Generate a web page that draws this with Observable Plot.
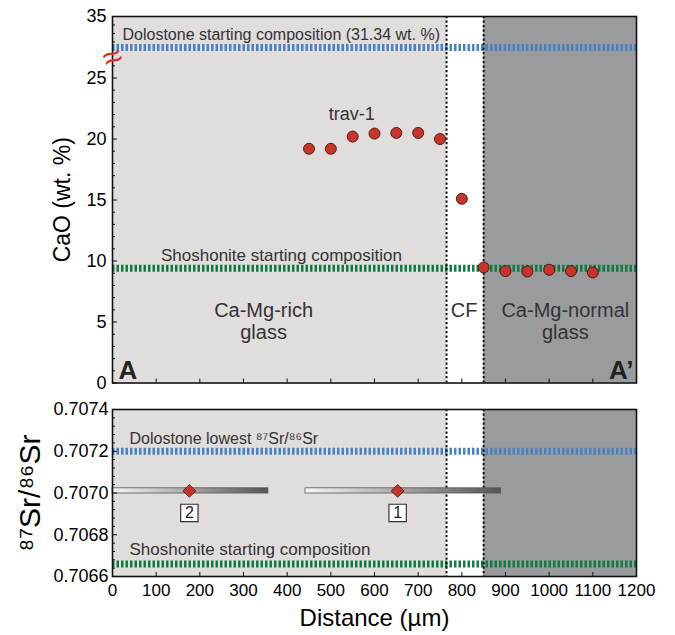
<!DOCTYPE html>
<html>
<head>
<meta charset="utf-8">
<script src="https://cdn.jsdelivr.net/npm/d3@7"></script>
<script src="https://cdn.jsdelivr.net/npm/@observablehq/plot@0.6"></script>
<style>
  html, body { margin: 0; padding: 0; background: white; }
  #chart { width: 675px; height: 635px; position: relative; }
  #chart svg { display: block; }
</style>
</head>
<body>
<div id="chart"></div>
<script>
// ---------- data ----------
const distance = [450, 500, 550, 600, 650, 700, 750, 800, 850, 900, 950, 1000, 1050, 1100];
const cao = [19.2, 19.2, 20.2, 20.45, 20.5, 20.5, 20.0, 15.1, 9.47, 9.17, 9.14, 9.28, 9.17, 9.06];

const regionEdges = [0, 765, 850, 1200];
const regionNames = ["Ca-Mg-rich\nglass", "CF", "Ca-Mg-normal\nglass"];
const regionLabelX = [346, 805, 1037];
const regionLabelY = [5.07, 5.97, 5.07];

const dolostoneCaO = 31.34;
const shoshoniteCaO = 9.4;
const caoBreak = 26.7;

const srSamples = ["2", "1"];
const srDistance = [176, 653];
const srRangeMin = [0, 442];
const srRangeMax = [357, 890];
const srValue = [0.70701, 0.70701];
const dolostoneSr = 0.7072;
const shoshoniteSr = 0.70666;

const caoTicks = [0, 5, 10, 15, 20, 25, 35];
const caoMinorTicks = [1,2,3,4,6,7,8,9,11,12,13,14,16,17,18,19,21,22,23,24,26,32,33,34];
const srTicks = [0.7066, 0.7068, 0.7070, 0.7072, 0.7074];
const srMinorTicks = [0.70664, 0.70668, 0.70672, 0.70676, 0.70684, 0.70688, 0.70692, 0.70696,
                      0.70704, 0.70708, 0.70712, 0.70716, 0.70724, 0.70728, 0.70732, 0.70736];
const distTicks = [0, 100, 200, 300, 400, 500, 600, 700, 800, 900, 1000, 1100, 1200];

// ---------- styles ----------
const FONT = "'Liberation Sans', Arial, Helvetica, sans-serif";
const regionFill = ["#e0dddc", "#ffffff", "#9a9b9d"];
const BLUE = "#4a80c4";
const GREEN = "#0f7d43";
const RED = "#c9342a";
const TXT = "#333333";

// broken CaO axis: linear up to the break, compressed above it
const caoBrokenAxis = d3.scaleLinear()
  .domain([0, caoBreak, dolostoneCaO, 35])
  .range([0, caoBreak, caoBreak + 0.803, caoBreak + 3.344]);

const regions = regionNames.map((name, i) => ({
  name, x1: regionEdges[i], x2: regionEdges[i + 1], fill: regionFill[i],
  lx: regionLabelX[i], ly: regionLabelY[i]
}));
const pts = distance.map((d, i) => ({d, v: cao[i]}));
const sr = srSamples.map((s, i) => ({s, d: srDistance[i], x1: srRangeMin[i], x2: srRangeMax[i], v: srValue[i]}));
const boundaries = regionEdges.slice(1, -1);

const W = 675;
const topH = 395, botH = 240;

// ---------- top panel ----------
const topPlot = Plot.plot({
  width: W, height: topH,
  marginLeft: 112, marginRight: 39, marginTop: 16, marginBottom: 12.5,
  style: {fontFamily: FONT, fontSize: "18px", color: "black", background: "transparent", overflow: "visible"},
  color: {type: "identity"},
  x: {domain: [0, 1200], axis: null},
  y: {domain: [0, caoBrokenAxis(35)], transform: caoBrokenAxis, axis: null},
  marks: [
    Plot.rect(regions, {x1: "x1", x2: "x2", fill: "fill"}),
    Plot.ruleY([dolostoneCaO], {stroke: BLUE, strokeWidth: 7, strokeDasharray: "2.5,2"}),
    Plot.ruleY([shoshoniteCaO], {stroke: GREEN, strokeWidth: 7, strokeDasharray: "2.5,2"}),
    Plot.ruleX(boundaries, {stroke: "#111", strokeWidth: 2, strokeDasharray: "2.3,2.2"}),
    Plot.dot(pts, {x: "d", y: "v", r: 5.5, fill: RED, stroke: "#3a1410", strokeWidth: 0.9}),
    Plot.text(["Dolostone starting composition (31.34 wt. %)"], {x: 0, y: dolostoneCaO, dx: 10, dy: -12.8, textAnchor: "start", fontSize: 16, fill: TXT}),
    Plot.text(["Shoshonite starting composition"], {x: 111, y: shoshoniteCaO, dy: -13.2, textAnchor: "start", fontSize: 17, fill: TXT}),
    Plot.text(["trav-1"], {x: 548, y: 22.05, fontSize: 18, fill: TXT}),
    Plot.text(regions, {x: "lx", y: "ly", text: "name", fontSize: 20, lineHeight: 1.1, fill: TXT}),
    Plot.text(["A"], {frameAnchor: "bottom-left", dx: 6, dy: -4, lineAnchor: "bottom", textAnchor: "start", fontSize: 26, fontWeight: "bold", fill: "#222"}),
    Plot.text(["A’"], {frameAnchor: "bottom-right", dx: -3, dy: -4, lineAnchor: "bottom", textAnchor: "end", fontSize: 26, fontWeight: "bold", fill: "#222"}),
    Plot.text(["CaO (wt. %)"], {frameAnchor: "left", dx: -50, rotate: -90, textAnchor: "middle", lineAnchor: "middle", fontSize: 23, fill: "black"}),
    Plot.frame({stroke: "#111", strokeWidth: 1.6}),
    Plot.text(caoTicks, {x: 0, y: d => d, dx: -6, textAnchor: "end", fontSize: 18, fill: "black"}),
    Plot.ruleY(caoTicks, {x1: 0, x2: 0, insetRight: -5, stroke: "#111", strokeWidth: 1}),
    Plot.ruleY(caoMinorTicks, {x1: 0, x2: 0, insetRight: -3, stroke: "#111", strokeWidth: 1}),
    Plot.ruleX(distTicks.slice(1, -1), {y1: 0, y2: 0, insetTop: -4, stroke: "#111", strokeWidth: 1}),
    Plot.text(["≈"], {x: 0, y: caoBreak, rotate: -22, fontSize: 34, fill: "#d8352a"})
  ]
});

// ---------- bottom panel ----------
const botPlot = Plot.plot({
  width: W, height: botH,
  marginLeft: 112, marginRight: 39, marginTop: 14, marginBottom: 59,
  style: {fontFamily: FONT, fontSize: "17px", color: "black", background: "transparent", overflow: "visible"},
  color: {type: "identity"},
  x: {domain: [0, 1200], axis: null},
  y: {domain: [0.7066, 0.7074], axis: null},
  marks: [
    Plot.rect(regions, {x1: "x1", x2: "x2", fill: "fill"}),
    Plot.ruleY([dolostoneSr], {stroke: BLUE, strokeWidth: 7, strokeDasharray: "2.5,2"}),
    Plot.ruleY([shoshoniteSr], {stroke: GREEN, strokeWidth: 7, strokeDasharray: "2.5,2"}),
    Plot.ruleX(boundaries, {stroke: "#111", strokeWidth: 2, strokeDasharray: "2.3,2.2"}),
    Plot.text(["Dolostone lowest ⁸⁷Sr/⁸⁶Sr"], {x: 39, y: dolostoneSr, dy: -12.8, textAnchor: "start", fontSize: 16, fill: TXT}),
    Plot.text(["Shoshonite starting composition"], {x: 39, y: shoshoniteSr, dy: -14.7, textAnchor: "start", fontSize: 17, fill: TXT}),
    Plot.rect(sr, {x1: "x1", x2: "x2", y1: "v", y2: "v", insetTop: -2.6, insetBottom: -2.6, fill: "url(#srgrad)", stroke: "#555", strokeWidth: 0.8}),
    Plot.dot(sr, {x: "d", y: "v", symbol: "diamond2", r: 5.8, fill: RED, stroke: "#4a1a14", strokeWidth: 0.8}),
    Plot.dot(sr, {x: "d", y: "v", dy: 22, symbol: "square", r: 9.8, fill: "white", stroke: "#333", strokeWidth: 1.2}),
    Plot.text(sr, {x: "d", y: "v", dy: 22, text: "s", fontSize: 16, fill: "#222"}),
    Plot.text(["⁸⁷Sr/⁸⁶Sr"], {frameAnchor: "left", dx: -82, rotate: -90, textAnchor: "middle", lineAnchor: "middle", fontSize: 30, fill: "black"}),
    Plot.text(["Distance (µm)"], {frameAnchor: "bottom", dy: 42, textAnchor: "middle", lineAnchor: "middle", fontSize: 24, fill: "black"}),
    Plot.frame({stroke: "#111", strokeWidth: 1.6}),
    Plot.text(srTicks, {x: 0, y: d => d, dx: -4, text: d => d3.format(".4f")(d), textAnchor: "end", fontSize: 18, fill: "black"}),
    Plot.text(distTicks, {x: d => d, y: 0.7066, dy: 14, text: d => String(d), textAnchor: "middle", fontSize: 17, fill: "black"}),
    Plot.ruleY(srTicks, {x1: 0, x2: 0, insetRight: -5, stroke: "#111", strokeWidth: 1}),
    Plot.ruleY(srMinorTicks, {x1: 0, x2: 0, insetRight: -3, stroke: "#111", strokeWidth: 1}),
    Plot.ruleX(distTicks.slice(1, -1), {y1: 0.7066, y2: 0.7066, insetTop: -4, stroke: "#111", strokeWidth: 1})
  ]
});

// gradient definition for the Sr range bars
const defs = d3.select(botPlot).insert("defs", ":first-child");
const grad = defs.append("linearGradient").attr("id", "srgrad")
  .attr("x1", "0").attr("x2", "1").attr("y1", "0").attr("y2", "0");
grad.append("stop").attr("offset", "0%").attr("stop-color", "#f6f6f6");
grad.append("stop").attr("offset", "100%").attr("stop-color", "#555555");

const chart = document.getElementById("chart");
chart.appendChild(topPlot);
chart.appendChild(botPlot);
</script>
</body>
</html>
